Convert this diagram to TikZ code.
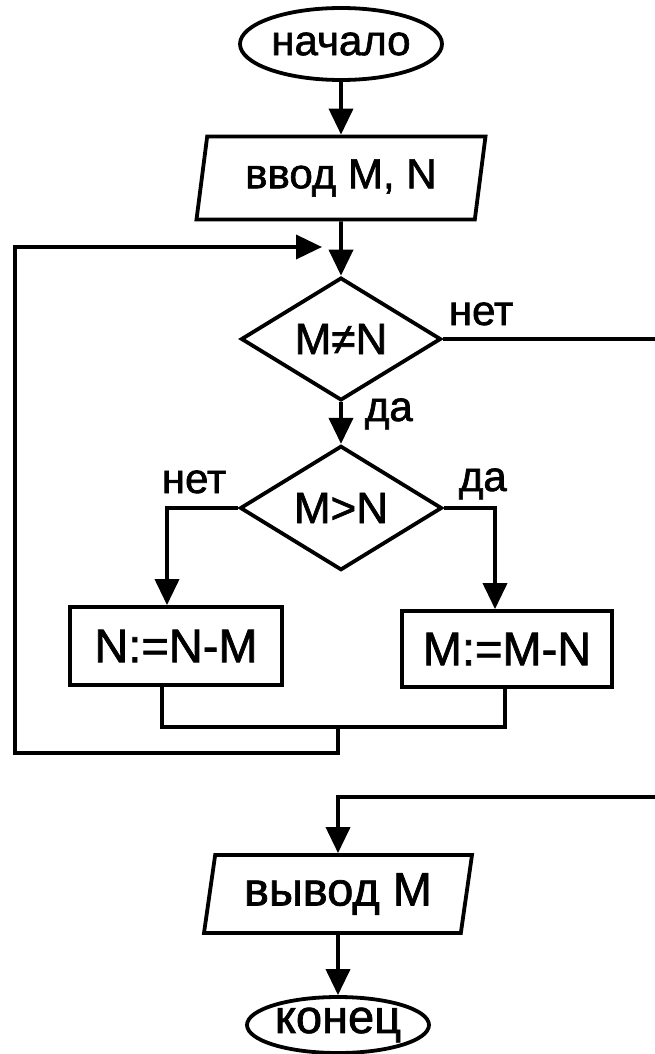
\documentclass[tikz,border=0pt]{standalone}
\usepackage{fontspec}
\setmainfont{Liberation Sans}[FakeBold=1.5]
\usetikzlibrary{shapes.geometric,arrows.meta}
\begin{document}
\begin{tikzpicture}[x=1pt,y=-1pt, line width=3.8pt,
  every node/.style={font=\fontsize{42}{48}\selectfont},
  big/.style={font=\fontsize{47}{52}\selectfont},
  mid/.style={font=\fontsize{44}{50}\selectfont},
  term/.style={draw, ellipse, inner sep=0pt},
  io/.style={draw, trapezium, trapezium left angle=74, trapezium right angle=106, trapezium stretches body, inner sep=0pt},
  dec/.style={draw, diamond, inner sep=0pt, mid},
  proc/.style={draw, rectangle, inner sep=0pt, big},
  arr/.style={-{Triangle[length=26pt,width=24pt]}},
  lbl/.style={inner sep=0pt, anchor=base west}]
\useasboundingbox (0,0) rectangle (654,1054);
\node[term, minimum width=202pt, minimum height=72pt] (start) at (341,44) {начало};
\node[io, minimum width=289pt, minimum height=83pt] (in) at (341,178) {ввод M, N};
\node[dec, minimum width=200pt, minimum height=107pt] (d1) at (341,339) {M≠N};
\node[dec, minimum width=202pt, minimum height=100pt] (d2) at (341,508) {M>N};
\node[proc, minimum width=212pt, minimum height=78pt] (p1) at (176,646) {N:=N-M};
\node[proc, minimum width=210pt, minimum height=76pt] (p2) at (507,649) {M:=M-N};
\node[io, big, trapezium left angle=75, trapezium right angle=105, minimum width=268pt, minimum height=78pt] (out) at (338,894) {вывод M};
\node[term, big, minimum width=182pt, minimum height=56pt] (end) at (338,1025) {конец};
\node[lbl] (l1) at (447,325) {нет};
\node[lbl] (l2) at (363,421) {да};
\node[lbl] (l3) at (160,493) {нет};
\node[lbl] (l4) at (457,491) {да};
\coordinate (merge) at (338,727);
\coordinate (loopend) at (322,247);
\draw[arr] (start.south) -- (in.north);
\draw[arr] (in.south) -- (d1.north);
\draw[arr] (d1.south) -- (d2.north);
\draw[arr] (d2.west) -| ([xshift=-9pt]p1.north);
\draw[arr] (d2.east) -| ([xshift=-12pt]p2.north);
\draw ([xshift=-14pt]p1.south) |- (merge) -| ([xshift=-2pt]p2.south);
\draw[arr] (merge) -- ++(0,26) -| (15,247) -- (loopend);
\draw[arr] (d1.east) -| (658,797) -| (out.north);
\draw[arr] (out.south) -- (end.north);
\end{tikzpicture}
\end{document}
